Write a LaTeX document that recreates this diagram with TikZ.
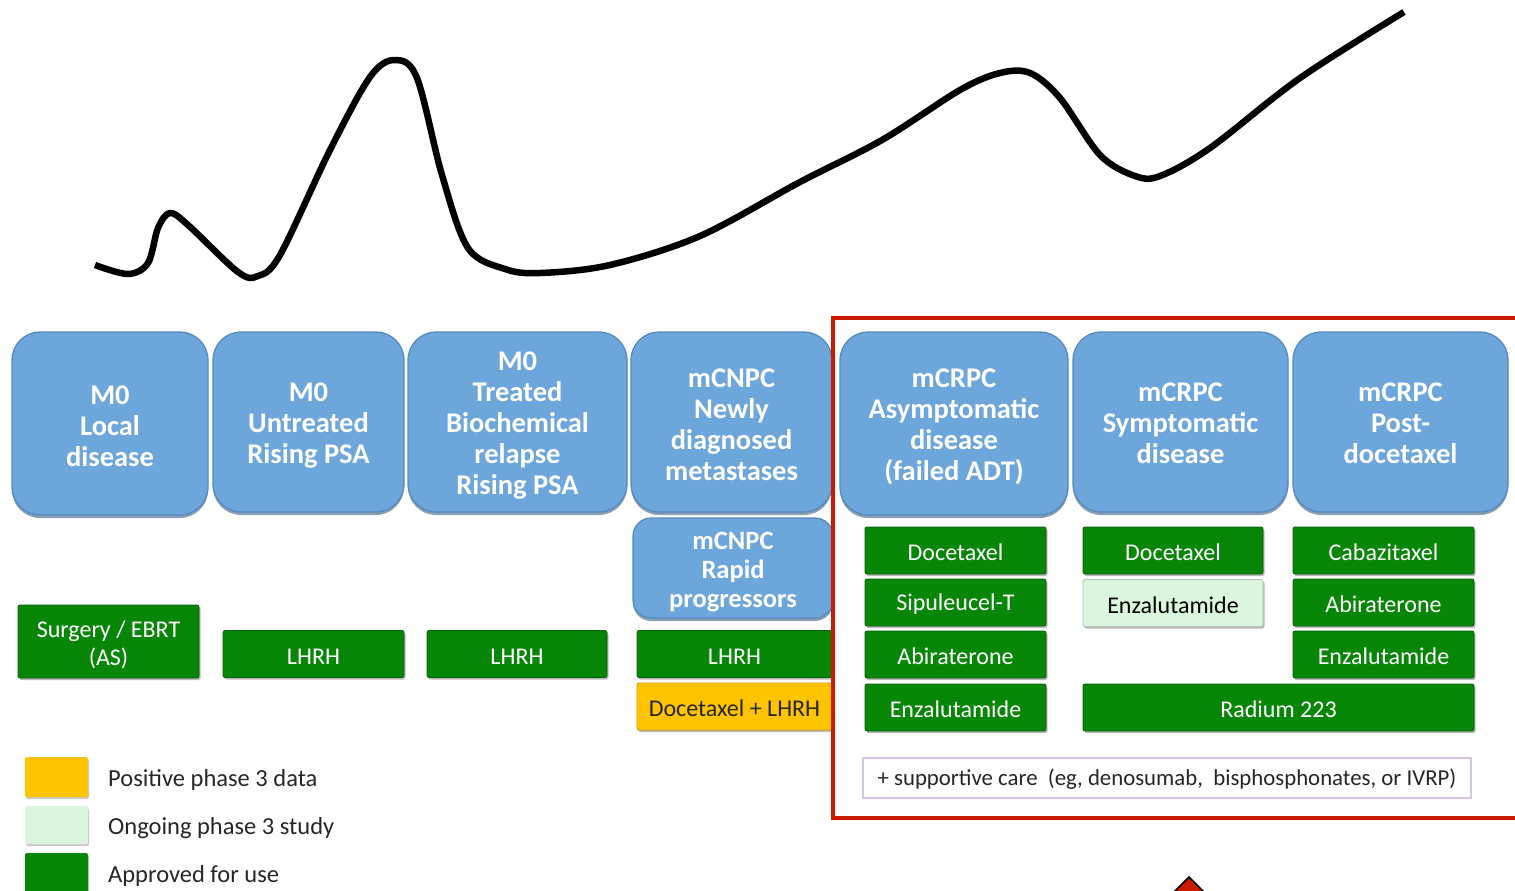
\documentclass[tikz,border=0pt]{standalone}
\usepackage{fontspec}
\setmainfont{Carlito}
\usetikzlibrary{shadows}
\definecolor{bluefill}{RGB}{108,166,218}
\definecolor{blueedge}{RGB}{84,136,186}
\definecolor{appgreen}{RGB}{8,134,8}
\definecolor{greenedge}{RGB}{6,96,6}
\definecolor{lightgreen}{RGB}{218,246,220}
\definecolor{posyellow}{RGB}{255,196,0}
\definecolor{framered}{RGB}{204,26,0}
\definecolor{carepurple}{RGB}{214,196,230}
\tikzset{
  stage/.style={rectangle, rounded corners=28pt, fill=bluefill, draw=blueedge, line width=1.2pt,
    inner sep=0pt,
    drop shadow={shadow xshift=0pt, shadow yshift=-3pt, fill=blueedge!70!black, opacity=0.6}},
  stagetext/.style={text=white, font=\fontsize{28.5}{31}\selectfont\bfseries, align=center, inner sep=0pt},
  therapy/.style={rectangle, rounded corners=2pt, fill=appgreen, draw=greenedge, line width=0.8pt,
    text=white, font=\fontsize{24}{28}\selectfont, align=center, inner sep=0pt, minimum height=47pt,
    execute at begin node={\rule{0pt}{20.5pt}},
    drop shadow={shadow xshift=1.5pt, shadow yshift=-2pt, fill=black!45, opacity=0.6}},
  ongoing/.style={therapy, fill=lightgreen, draw=lightgreen!80!black, text=black},
  positive/.style={therapy, fill=posyellow, draw=posyellow!80!black, text=black!85},
  legendbox/.style={rectangle, rounded corners=2pt, minimum width=63pt, inner sep=0pt,
    drop shadow={shadow xshift=1pt, shadow yshift=-2pt, fill=black!35, opacity=0.6}},
  legendtext/.style={anchor=west, font=\fontsize{24.5}{28}\selectfont, text=black!85, inner sep=0pt},
}
\begin{document}
\begin{tikzpicture}[x=1pt, y=-1pt]
\useasboundingbox (0,0) rectangle (1515,891);
\clip (0,0) rectangle (1515,891);

% curve
\draw[line width=6.5pt, line join=round] plot[smooth, tension=0.55] coordinates {
 (95,265) (128,274) (148,263) (158,228) (170,213) (188,225) (238,272) (258,276) (280,255)
 (330,150) (370,77) (395,60) (417,78) (442,175) (468,248) (505,269) (540,273) (610,265)
 (700,236) (800,182) (882,140) (960,90) (1000,73) (1030,73) (1060,98) (1100,155)
 (1135,176) (1160,176) (1210,148) (1300,78) (1404,12)};

% stage boxes
\node[stage, minimum width=196pt, minimum height=183pt] (s1) at (110,423.5) {};
\node[stagetext] (s1t) at ([yshift=-3pt]s1.center) {M0\\Local\\disease};
\node[stage, minimum width=191pt, minimum height=180pt] (s2) at (308.5,422) {};
\node[stagetext] (s2t) at ([yshift=-3.5pt]s2.center) {M0\\Untreated\\Rising PSA};
\node[stage, minimum width=219pt, minimum height=180pt] (s3) at (517.5,422) {};
\node[stagetext] (s3t) at ([yshift=-4pt]s3.center) {M0\\Treated\\Biochemical\\relapse\\Rising PSA};
\node[stage, minimum width=201pt, minimum height=180pt] (s4) at (731.5,422) {};
\node[stagetext] (s4t) at ([yshift=-2.5pt]s4.center) {mCNPC\\Newly\\diagnosed\\metastases};
\node[stage, minimum width=228pt, minimum height=183pt] (s5) at (954,423.5) {};
\node[stagetext] (s5t) at ([yshift=-3.5pt]s5.center) {mCRPC\\Asymptomatic\\disease\\(failed ADT)};
\node[stage, minimum width=215pt, minimum height=180pt] (s6) at (1180.5,422) {};
\node[stagetext] (s6t) at ([yshift=-1.5pt]s6.center) {mCRPC\\Symptomatic\\disease};
\node[stage, minimum width=215pt, minimum height=180pt] (s7) at (1400.5,422) {};
\node[stagetext] (s7t) at ([yshift=-1.5pt]s7.center) {mCRPC\\Post-\\docetaxel};
\node[stage, rounded corners=18pt, minimum width=200pt, minimum height=100pt] (s4b) at (733,568) {};
\node[stagetext, font=\fontsize{26.5}{29}\selectfont\bfseries] (s4bt) at ([yshift=-4pt]s4b.center) {mCNPC\\Rapid\\progressors};

% therapies
\node[therapy, minimum width=181pt, minimum height=73pt] (t1) at (108.5,641.5) {};
\node[stagetext, font=\fontsize{24}{28}\selectfont] (t1t) at ([yshift=-3.5pt]t1.center) {Surgery / EBRT\\(AS)};
\node[therapy, minimum width=181pt] (t2) at (313.5,654) {LHRH};
\node[therapy, minimum width=180pt] (t3) at (517,654) {LHRH};
\node[therapy, minimum width=195pt] (t4) at (734.5,654) {LHRH};
\node[positive, minimum width=195pt] (t4b) at (734.5,706.5) {Docetaxel + LHRH};

\node[therapy, minimum width=181pt] (a1) at (955.5,550.5) {Docetaxel};
\node[therapy, minimum width=181pt] (a2) at (955.5,602.5) {Sipuleucel-T};
\node[therapy, minimum width=181pt] (a3) at (955.5,654.5) {Abiraterone};
\node[therapy, minimum width=181pt] (a4) at (955.5,707.5) {Enzalutamide};

\node[therapy, minimum width=180pt] (b1) at (1173,550.5) {Docetaxel};
\node[ongoing, minimum width=180pt] (b2) at (1173,603) {Enzalutamide};

\node[therapy, minimum width=181pt] (c1) at (1383.5,550.5) {Cabazitaxel};
\node[therapy, minimum width=181pt] (c2) at (1383.5,602.5) {Abiraterone};
\node[therapy, minimum width=181pt] (c3) at (1383.5,654.5) {Enzalutamide};

\node[therapy, minimum width=391pt] (r1) at (1278.5,707.5) {Radium 223};

\node[rectangle, draw=carepurple, line width=1.2pt, fill=white, minimum width=608pt, minimum height=40pt,
  inner sep=0pt, font=\fontsize{22.8}{26}\selectfont, text=black!85] (care) at (1167,778)
  {\rule{0pt}{19pt}+ supportive care~~(eg, denosumab,~~bisphosphonates, or IVRP)};

% red frame
\draw[framered, line width=4pt] (833,318) rectangle (1530,818);

% red marker at bottom
\draw[fill=framered, draw=black, line width=1.5pt] (1189,877) -- (1216,904) -- (1162,904) -- cycle;

% legend
\node[legendbox, fill=posyellow, minimum height=40pt] (l1) at (56.5,777) {};
\node[legendbox, fill=lightgreen, minimum height=38pt] (l2) at (56.5,825) {};
\node[legendbox, fill=appgreen, minimum height=42pt] (l3) at (56.5,874) {};
\node[legendtext] (lt1) at (108,780) {Positive phase 3 data};
\node[legendtext] (lt2) at (108,828) {Ongoing phase 3 study};
\node[legendtext] (lt3) at (108,876) {Approved for use};
\end{tikzpicture}
\end{document}
